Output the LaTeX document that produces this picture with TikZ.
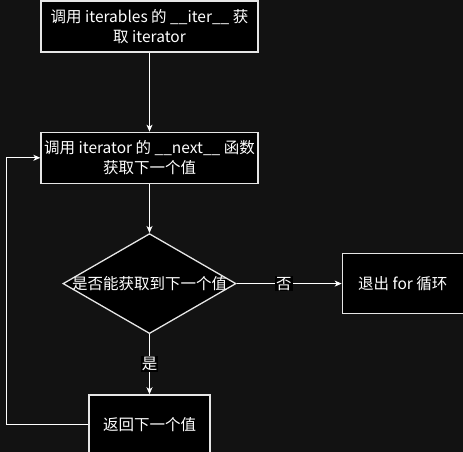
\documentclass[tikz,border=0pt]{standalone}
\usepackage{fontspec}
\usepackage{tikz}
\usetikzlibrary{arrows.meta,positioning,shapes.geometric}
\usepackage{xcolor}
\newfontfamily\cjk{Noto Sans CJK SC}
\definecolor{canvas}{HTML}{121212}
\definecolor{edge}{HTML}{E6E6E6}
\tikzset{
  proc/.style={draw=edge,fill=black,line width=1.3pt,align=center,text=white,
    minimum width=217pt,minimum height=51pt,inner sep=1pt,font=\cjk\fontsize{15.5}{19.5}\selectfont},
  small/.style={proc,minimum width=121pt,minimum height=60pt},
  decision/.style={draw=edge,fill=black,diamond,line width=1.3pt,text=white,
    minimum width=173pt,minimum height=100pt,inner sep=0pt,font=\cjk\fontsize{15.5}{19.5}\selectfont},
  arrow/.style={-{Stealth[length=7pt,width=6pt,inset=2pt]},draw=white,line width=0.9pt},
  tag/.style={fill=black,text=white,inner sep=1pt,font=\cjk\fontsize{15.5}{17}\selectfont}
}
\begin{document}
\begin{tikzpicture}[node distance=79pt and 105pt]
  \fill[canvas] (0,0) rectangle (463pt,-452pt);
  \useasboundingbox (0,0) rectangle (463pt,-452pt);
  \node[proc] (iter) at (149.5pt,-26.5pt) {调用 iterables 的 \_\_iter\_\_ 获\\取 iterator};
  \node[proc,below=79pt of iter] (next) {调用 iterator 的 \_\_next\_\_ 函数\\获取下一个值};
  \node[decision,below=49pt of next] (check) {\makebox[0pt]{是否能获取到下一个值}};
  \node[small,right=105pt of check] (quit) {退出 for 循环};
  \node[small,below=60pt of check] (ret) {返回下一个值};
  \draw[arrow] (iter)--(next);
  \draw[arrow] (next)--(check);
  \draw[arrow] (check)--node[tag,pos=0.45] {否} (quit);
  \draw[arrow] (check)--node[tag] {是} (ret);
  \draw[arrow] (ret.west)--++(-82pt,0) |- (next.west);
\end{tikzpicture}
\end{document}
